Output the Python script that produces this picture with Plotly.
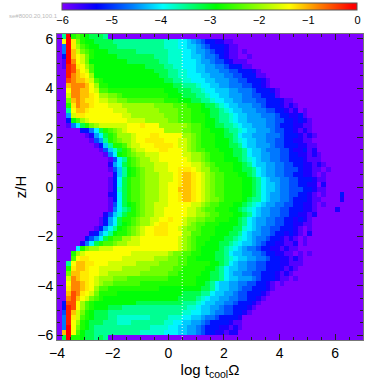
import plotly.graph_objects as go

# one string per z bin, top row first; each letter is a level of log fraction
LEVELS = "abcdefghijklmnopqrstuvwxy"
LEVEL_VALUES = [-6, -5.75, -5.45, -5.2, -4.85, -4.6, -4.4, -4.2, -4, -3.75, -3.5, -3.2, -2.9,
                -2.7, -2.45, -2.2, -1.95, -1.65, -1.4, -1.28, -1.08, -0.8, -0.5, -0.25, 0]

Z_ROWS = [
    "akynonmlll k",
    "asytpnmmll llkkkkkkkk kkkjjjiihg feddccbb",
    "afytqonmml lllkkkkkkk kkkjjjiihh gfedddcbb",
    "afyurponmm mllllllkkk kkkkjjjiih ggfeddcbba b",
    "adyusrpnmm mmmlllllll lkkkjjjiih hgffedcbba ab",
    "abyvsrpmmm mmmmmlllll llkkjjjiii hggfeedcbb ba",
    "abxwtsqomm mmmmmmmmml lllkkjjiii hhggffeddd bb",
    "aaxwusromm mmmmmmmmmm mlllkkjjii hhgggffeed ddcb",
    "aaxvutsqmm mmmmmmmmmm mmllkkjjii ihhgggffee dddbb",
    "aawvuutron mmmmmmmmmm mmmllkkjji iihhgggffe edddcb",
    "aauvvvusqn nmmmmmmmmm mmmmmllkkk jiihhggfff eeddcb",
    "aasvvuusro onnnnnnnnn nnnmmmlllk kjiihhhggf ffedddcb",
    "aarvvuutsq qpponnnnnn nnnnmmmlll kkjiihhggg ffeedddb",
    "aapuvuttsr rqqppooooo ooonnnmmml lkkjiihhgg fffeedddcb b",
    "aantvuutss srrrqqqqqq qppppooonn nmllkjihhg ggffedddcb cb",
    "aaksuutsss ssrrrqqqqq qqppppooon nmmllkjihh gggffeeddc bcab",
    "aagrttssss ssssrrqqqq qqqpppooon nnmllkkjih hgggfffedd ccdba",
    "aadmoqrsss sssssrrrrq qqqqppooon nnmmlkkjih hggggffeed dcdcb",
    "aabfilnpqr rrrrrsssts ssqqqqqqpo onmmllkkji hhgggffedd dccbb",
    "aaaaaddfil nopqrsssss sssqqqqppo onnmmmlkkj ihhgggfeed dcbcb",
    "aaaaaabcgi lnoqqqrsss ttsssssqqp onnnmmllki hhgggfffed ddcbcb",
    "aaaaaaabeg knopqqrsst tttsssrrqp onnnmmmlkj ihhggffeed dccbb",
    "aaaaaaaabd hknnoqrrss sttttsrrqp onnnmmmllk ihhgggfeed ddccbb",
    "aaaaaaaaab ehjlnoqrrs ssttsssrqp oonnnmmmll kihhgfffee dccdbc",
    "aaaaaaaaaa bfimnopqqr rrsssssrrq qponnnmmll kihhggffee ddccbcb",
    "aaaaaaaaaa abeiknopqq rrssssssrq qponnnmmml kjihggffee dddcbbb",
    "aaaaaaaaaa acgilnopqq qrrrsssssr rqponnnnmm lkihhggffe eddccbcb",
    "aaaaaaaaaa abehkmnopq qrrrssttts rqqoonnnmm llkihggffe eedccbbab",
    "aaaaaaaaaa aadhkmnopq qqrrrstuut srqpoonnnm mlkihggffe eddccbab",
    "aaaaaaaaaa abdilnoopq qqrrrstuut srqpoonnnn mmlkihggff eedddcbb",
    "aaaaaaaaaa abdilnoopq qqrrsstuut srqpoonnnn mmlkihhgff eeddccac",
    "aaaaaaaaaa abdjlnoopq qqrrssuuut srqpoonnnn mmlkihhgff eeeddcbb",
    "aaaaaaaaaa acdilnoopq qqrrsstuut srqpoonnnn mmlkihggff eeddcbabaa ad",
    "aaaaaaaaaa abdilnoopq qqrrsstuut srqpponnnn mlkkihggff edddcbbaaa ac",
    "aaaaaaaaaa abeilmnopq qrrrsssssr rqpoonnnmm lkjihggffe eddccbab",
    "aaaaaaaaaa abfiklnopq qrrsssssrr qpoonnnmml kjihggffee dddccbaaaa c",
    "aaaaaaaaaa cehjlnnopq qrrsssssrr qqpoonnnmm lkihggffee ddccbc",
    "aaaaaaaaab dgilnnopqq rrsstssrqq ppoonnnmml kihggffeed dcdcb",
    "aaaaaaaaab dgilmnopqq rsttsssrqp oonnnmmmml kihggffeed dccbb",
    "aaaaaaaabd gikmnopqrs stttssrqpp onnnmmmmll jihgffeedd dcbab",
    "aaaaaaacdg ikmnnopqrs stttsssqqo onnnmmmllk ihggffeddc dcbac",
    "aaaaaadegi lnooqqrrss ssssssrqpo nnnmmmllkj ihgffeddcb cbab",
    "aaaaacfiln oopqqrrrss ssssssrqpo nnmmmllkji hhgfeddccb bcab",
    "aaaainpqqr rrssssssss ssssssrqpo nmmmmlkjih gffeddccbc bb",
    "aaanqrssss ssssssrrrr rrrrqppoon nmmmllkihh ggffeddccb babab",
    "aaaosttsss ssssrrrrrr rqqqppoonn mmmmllkjih hggffeddcc bcb",
    "aaksuuttss srrrrrrqqq qqppppoonn nnnmmlkihg gffeedddcc bbb",
    "aantuutssr rrrrqqqqqq pppppoonnn nnmmlkihhg gffeedddcb cb",
    "aapuuttssr rqqqqqqqpp ppppoonnnn nmmllkihgg ffeedddcbc b",
    "aarvuttsrq qqpppooooo oooonnnnnn mmmllkihhg ggfedddcbb ab",
    "aasvvutsrq ppoooooonn nnnnnnnnnn mmlkihhggf feeddcbab",
    "aatvvutsqo onnnnnnnnn nnmmmmmmmm mllkihhggf eedddcb",
    "aauwvtsrpn nnnmmmmmmm mmmmmmmlll lkkihhggfe edddcb",
    "aavwusrpon mmmmmmmmmm mmmmmmllll kjihhggffe eddcb",
    "adwwsqonmm mmmmmmmlll lllllllkkk jihhggffed ddcb",
    "adxwsqonmm mlllkkkkkk kkkkkkkkjj ihhggfeedd dcb",
    "aexurpnmll lkkkkkkkkk kkkkkkkjji ihhgffeedd cb",
    "afxtronmll lkkjjjjjjj kkkkjjjiih hgffeddddc",
    "afxsqnmlll kkkjjjkkkk kkkjjiihhg gfeddddcbb",
    "afyspnmlkk kkkkkkkkkk jjjjiihhgg fedddccbcb",
    "auysomllkk kkkkkkkkjj jjjiiihhgg feddccbcca",
    "alynnmllkl k",
]

X_START, X_STEP, N_X = -4 + 1 / 12, 1 / 6, 66
Y_START, Y_STEP = 6.1, -0.2
X_RANGE = [-4, 7]
Y_RANGE = [-6.2, 6.2]
CBAR_TICKS = [-6, -5, -4, -3, -2, -1, 0]
X_TICKS = [-4, -2, 0, 2, 4, 6]
Y_TICKS = [-6, -4, -2, 0, 2, 4, 6]
LINE_X = [0.5, 0.5]
LINE_Y = [-6.2, 6.2]
RUN_LABEL = "se#8000.20,100.1"

RAINBOW = [
    [0.0, "#7f00ff"], [0.117, "#0000ff"], [0.24, "#007fff"], [0.342, "#00ffff"],
    [0.43, "#00ff7f"], [0.522, "#00ff00"], [0.77, "#ffff00"], [0.872, "#ff7f00"],
    [0.985, "#ff0000"], [1.0, "#ff0000"],
]

value_of = dict(zip(LEVELS, LEVEL_VALUES))
z_grid = []
for row in Z_ROWS:
    cells = row.replace(" ", "").ljust(N_X, "a")[:N_X]
    z_grid.append([value_of[c] for c in cells])

fig = go.Figure()
fig.add_trace(go.Heatmap(
    z=z_grid, x0=X_START, dx=X_STEP, y0=Y_START, dy=Y_STEP,
    colorscale=RAINBOW, zmin=-6, zmax=0, hoverinfo="skip",
    colorbar=dict(
        orientation="h", thickness=7, thicknessmode="pixels",
        len=0.964, lenmode="fraction", x=0.5, xanchor="center",
        y=1.0997, yanchor="top", ypad=0, xpad=0,
        outlinecolor="#555", outlinewidth=1, tickvals=CBAR_TICKS, ticks="",
        tickfont=dict(family="Liberation Sans", size=11, color="black"),
    ),
))
fig.add_trace(go.Scatter(
    x=LINE_X, y=LINE_Y, mode="lines", showlegend=False, hoverinfo="skip",
    line=dict(color="white", width=1, dash="1px,2px"),
))

axis_style = dict(
    ticks="inside", ticklen=6, tickwidth=1, tickcolor="#222", mirror="ticks",
    showline=True, linecolor="#777", linewidth=1, showgrid=False, zeroline=False,
    tickfont=dict(family="Liberation Sans", size=14, color="black"),
    minor=dict(dtick=0.5, ticks="inside", ticklen=3, tickwidth=1, tickcolor="#222", showgrid=False),
)
fig.update_xaxes(
    range=X_RANGE, tickvals=X_TICKS, **axis_style,
    title=dict(text="log t<sub>cool</sub>Ω", standoff=2,
               font=dict(family="Liberation Sans", size=15, color="black")),
)
fig.update_yaxes(
    range=Y_RANGE, tickvals=Y_TICKS, **axis_style,
    title=dict(text="z/H", standoff=6,
               font=dict(family="Liberation Sans", size=15, color="black")),
)
fig.add_annotation(
    text=RUN_LABEL, xref="paper", yref="paper", x=-0.165, y=1.06, showarrow=False,
    xanchor="left", yanchor="middle", font=dict(family="Liberation Sans", size=6, color="#bbb"),
)
fig.update_layout(
    width=382, height=382, margin=dict(l=57, r=19, t=34, b=42, autoexpand=False),
    plot_bgcolor="white", paper_bgcolor="white", showlegend=False,
)

fig.write_html("out.html", config={"displayModeBar": False}, post_script="document.body.style.margin='0';")
